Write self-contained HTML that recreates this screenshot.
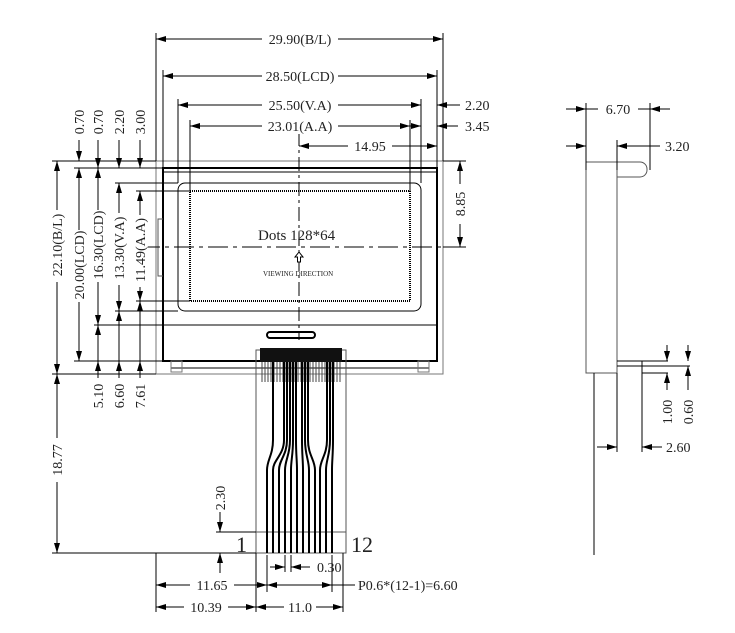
<!DOCTYPE html>
<html><head><meta charset="utf-8"><style>
html,body{margin:0;padding:0;background:#fff}
svg{display:block}
text{font-family:"Liberation Serif",serif;font-size:14px;fill:#222}
</style></head><body>
<svg width="735" height="633" viewBox="0 0 735 633" xmlns="http://www.w3.org/2000/svg">
<defs>
<marker id="a" viewBox="0 0 10 6" refX="10" refY="3" markerWidth="10" markerHeight="6" markerUnits="userSpaceOnUse" orient="auto-start-reverse"><path d="M0,0L10,3L0,6z" fill="#000"/></marker>
</defs>
<g stroke="#000" fill="none" stroke-width="1">
<rect x="156" y="161" width="287" height="213" stroke="#777"/>
<rect x="163" y="168" width="274" height="193" stroke-width="2"/>
<line x1="163" y1="172" x2="437" y2="172" stroke-width="1"/>
<rect x="171" y="361" width="258" height="7"/>
<rect x="171" y="361" width="11" height="11" stroke="#777"/>
<rect x="418" y="361" width="11" height="11" stroke="#777"/>
<rect x="178" y="183" width="243" height="128" rx="7"/>
<rect x="190" y="191" width="220" height="110" stroke-dasharray="1,1" stroke-width="2"/>
<line x1="163" y1="325" x2="437" y2="325"/>
<path d="M163,219h-5v57h5" stroke="#555"/>
<rect x="267" y="332" width="48" height="6" rx="3" stroke-width="2"/>
<line x1="299" y1="132" x2="299" y2="340" stroke-dasharray="14,4,3,4"/>
<line x1="140" y1="247" x2="470" y2="247" stroke-dasharray="20,5,4,5"/>
<rect x="256" y="350" width="90" height="203" stroke="#555"/>
<line x1="256" y1="532" x2="346" y2="532" stroke="#555"/>
</g>
<rect x="260" y="348" width="82" height="14" fill="#111"/>
<g stroke="#444" stroke-width="1">
<path d="M262,362V382M265,362V382M268,362V382M271,362V382M274,362V382M277,362V382M280,362V382M283,362V382M286,362V382M289,362V382M292,362V382M295,362V382M298,362V382M301,362V382M304,362V382M307,362V382M310,362V382M313,362V382M316,362V382M319,362V382M322,362V382M325,362V382M328,362V382M331,362V382M334,362V382M337,362V382M340,362V382"/>
</g>
<g stroke="#000" stroke-width="2" fill="none">
<path d="M273,362V440C273,455 267,460 267,470V553"/>
<path d="M284,362V440C284,455 273,460 273,470V553"/>
<path d="M287,362V440C287,455 279,460 279,470V553"/>
<path d="M290,362V440C290,455 285,460 285,470V553"/>
<path d="M293,362V440C293,455 291,460 291,470V553"/>
<path d="M296,362V440C296,455 297,460 297,470V553"/>
<path d="M302,362V440C302,455 303,460 303,470V553"/>
<path d="M305,362V440C305,455 309,460 309,470V553"/>
<path d="M308,362V440C308,455 315,460 315,470V553"/>
<path d="M327,362V440C327,455 320,460 320,470V553"/>
<path d="M330,362V440C330,455 326,460 326,470V553"/>
<path d="M333,362V440C333,455 332,460 332,470V553"/>
</g>
<text x="258" y="240" style="font-size:15px">Dots 128*64</text>
<path d="M299,252l-4,5h2.5v5h3v-5h2.5z" fill="#fff" stroke="#000"/>
<text x="263" y="276" style="font-size:7px">VIEWING DIRECTION</text>

<g stroke="#000" stroke-width="1" fill="none">
<path d="M156,33V161M163,70V168M178,99V183M190,120V191M410,120V191M421,99V183M437,70V168M443,33V161M437,140V168"/>
<line x1="156" y1="39" x2="443" y2="39" marker-start="url(#a)" marker-end="url(#a)"/>
<line x1="163" y1="76" x2="437" y2="76" marker-start="url(#a)" marker-end="url(#a)"/>
<line x1="178" y1="105" x2="421" y2="105" marker-start="url(#a)" marker-end="url(#a)"/>
<line x1="460" y1="105" x2="437" y2="105" marker-end="url(#a)"/>
<line x1="190" y1="126" x2="410" y2="126" marker-start="url(#a)" marker-end="url(#a)"/>
<line x1="410" y1="126" x2="421" y2="126" marker-end="url(#a)"/>
<line x1="458" y1="126" x2="437" y2="126" marker-end="url(#a)"/>
<line x1="299" y1="146" x2="437" y2="146" marker-start="url(#a)" marker-end="url(#a)"/>
<path d="M443,161H466M443,247H466"/>
<line x1="460" y1="161" x2="460" y2="247" marker-start="url(#a)" marker-end="url(#a)"/>
<path d="M52,161H156M74,168H163M115,183H178M136,191H190M136,301H190M115,311H178M94,325H163M74,361H163M52,374H156M52,553H256M216,532H256"/>
<line x1="57" y1="161" x2="57" y2="374" marker-start="url(#a)" marker-end="url(#a)"/>
<line x1="79" y1="168" x2="79" y2="361" marker-start="url(#a)" marker-end="url(#a)"/>
<line x1="79" y1="140" x2="79" y2="161" marker-end="url(#a)"/>
<line x1="98" y1="168" x2="98" y2="325" marker-start="url(#a)" marker-end="url(#a)"/>
<line x1="98" y1="140" x2="98" y2="168" marker-end="url(#a)"/>
<line x1="98" y1="361" x2="98" y2="378" marker-start="url(#a)"/>
<line x1="119" y1="183" x2="119" y2="311" marker-start="url(#a)" marker-end="url(#a)"/>
<line x1="119" y1="140" x2="119" y2="168" marker-end="url(#a)"/>
<line x1="119" y1="361" x2="119" y2="378" marker-start="url(#a)"/>
<line x1="140" y1="191" x2="140" y2="301" marker-start="url(#a)" marker-end="url(#a)"/>
<line x1="140" y1="140" x2="140" y2="168" marker-end="url(#a)"/>
<line x1="140" y1="361" x2="140" y2="378" marker-start="url(#a)"/>
<line x1="98" y1="325" x2="98" y2="361" marker-start="url(#a)"/>
<line x1="119" y1="311" x2="119" y2="361" marker-start="url(#a)"/>
<line x1="140" y1="301" x2="140" y2="361" marker-start="url(#a)"/>
<line x1="57" y1="374" x2="57" y2="553" marker-start="url(#a)" marker-end="url(#a)"/>
<line x1="220" y1="512" x2="220" y2="532" marker-end="url(#a)"/>
<line x1="220" y1="573" x2="220" y2="553" marker-end="url(#a)"/>
<path d="M156,553V612M256,553V612M343,553V612M267,555V592M332,555V592M285,555V572M291,555V572"/>
<line x1="270" y1="567" x2="285" y2="567" marker-end="url(#a)"/>
<line x1="310" y1="567" x2="291" y2="567" marker-end="url(#a)"/>
<line x1="156" y1="585" x2="267" y2="585" marker-start="url(#a)" marker-end="url(#a)"/>
<line x1="267" y1="585" x2="332" y2="585" marker-start="url(#a)" marker-end="url(#a)"/>
<line x1="332" y1="585" x2="355" y2="585"/>
<line x1="156" y1="607" x2="256" y2="607" marker-start="url(#a)" marker-end="url(#a)"/>
<line x1="256" y1="607" x2="343" y2="607" marker-start="url(#a)" marker-end="url(#a)"/>
<path d="M586,162V373H617M617,162V373M586,162H640a7,7 0 0 1 7,7v1a7,7 0 0 1 -7,7H617" stroke="#555"/>
<path d="M594,373V555"/>
<path d="M617,361H642V373M617,366H642M642,373V452M617,373V452M642,361H668M642,366H690M642,373H668"/>
<path d="M586,103V170M650,103V170M617,140V170"/>
<line x1="566" y1="109" x2="586" y2="109" marker-end="url(#a)"/>
<line x1="670" y1="109" x2="650" y2="109" marker-end="url(#a)"/>
<line x1="566" y1="146" x2="586" y2="146" marker-end="url(#a)"/>
<line x1="660" y1="146" x2="617" y2="146" marker-end="url(#a)"/>
<line x1="586" y1="109" x2="650" y2="109"/>
<line x1="667" y1="345" x2="667" y2="361" marker-end="url(#a)"/>
<line x1="667" y1="390" x2="667" y2="373" marker-end="url(#a)"/>
<line x1="688" y1="345" x2="688" y2="361" marker-end="url(#a)"/>
<line x1="688" y1="390" x2="688" y2="366" marker-end="url(#a)"/>
<line x1="597" y1="447" x2="617" y2="447" marker-end="url(#a)"/>
<line x1="662" y1="447" x2="642" y2="447" marker-end="url(#a)"/>
</g>

<!-- white masks behind labels on lines -->
<g fill="#fff">
<rect x="262" y="31" width="76" height="16"/>
<rect x="262" y="68" width="76" height="16"/>
<rect x="262" y="97" width="76" height="16"/>
<rect x="262" y="118" width="76" height="16"/>
<rect x="348" y="138" width="44" height="16"/>
<rect x="452" y="184" width="16" height="40"/>
<rect x="49" y="210" width="16" height="72"/>
<rect x="71" y="230" width="16" height="72"/>
<rect x="90" y="210" width="16" height="72"/>
<rect x="111" y="213" width="16" height="72"/>
<rect x="132" y="215" width="16" height="72"/>
<rect x="49" y="438" width="16" height="44"/>
<rect x="190" y="577" width="44" height="16"/>
<rect x="184" y="599" width="44" height="16"/>
<rect x="284" y="599" width="32" height="16"/>
<rect x="598" y="101" width="40" height="16"/>
</g>
<g>
<text x="300" y="44" text-anchor="middle">29.90(B/L)</text>
<text x="300" y="81" text-anchor="middle">28.50(LCD)</text>
<text x="300" y="110" text-anchor="middle">25.50(V.A)</text>
<text x="300" y="131" text-anchor="middle">23.01(A.A)</text>
<text x="370" y="151" text-anchor="middle">14.95</text>
<text x="465" y="110">2.20</text>
<text x="465" y="131">3.45</text>
<text transform="translate(465,204) rotate(-90)" text-anchor="middle">8.85</text>
<text transform="translate(62,245) rotate(-90)" text-anchor="middle">22.10(B/L)</text>
<text transform="translate(84,265) rotate(-90)" text-anchor="middle">20.00(LCD)</text>
<text transform="translate(103,245) rotate(-90)" text-anchor="middle">16.30(LCD)</text>
<text transform="translate(124,248) rotate(-90)" text-anchor="middle">13.30(V.A)</text>
<text transform="translate(145,250) rotate(-90)" text-anchor="middle">11.49(A.A)</text>
<text transform="translate(84,122) rotate(-90)" text-anchor="middle">0.70</text>
<text transform="translate(103,122) rotate(-90)" text-anchor="middle">0.70</text>
<text transform="translate(124,122) rotate(-90)" text-anchor="middle">2.20</text>
<text transform="translate(145,122) rotate(-90)" text-anchor="middle">3.00</text>
<text transform="translate(103,396) rotate(-90)" text-anchor="middle">5.10</text>
<text transform="translate(124,396) rotate(-90)" text-anchor="middle">6.60</text>
<text transform="translate(145,396) rotate(-90)" text-anchor="middle">7.61</text>
<text transform="translate(62,460) rotate(-90)" text-anchor="middle">18.77</text>
<text transform="translate(225,498) rotate(-90)" text-anchor="middle">2.30</text>
<text x="236" y="552" style="font-size:22px">1</text>
<text x="351" y="552" style="font-size:22px">12</text>
<text x="317" y="572">0.30</text>
<text x="212" y="590" text-anchor="middle">11.65</text>
<text x="358" y="590">P0.6*(12-1)=6.60</text>
<text x="206" y="612" text-anchor="middle">10.39</text>
<text x="300" y="612" text-anchor="middle">11.0</text>
<text x="618" y="114" text-anchor="middle">6.70</text>
<text x="665" y="151">3.20</text>
<text transform="translate(672,412) rotate(-90)" text-anchor="middle">1.00</text>
<text transform="translate(693,412) rotate(-90)" text-anchor="middle">0.60</text>
<text x="666" y="452">2.60</text>
</g>
</svg>
</body></html>
